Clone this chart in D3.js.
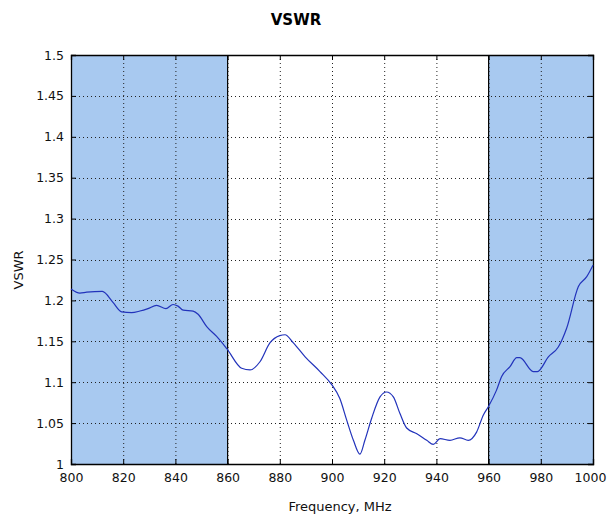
<!DOCTYPE html>
<html><head><meta charset="utf-8">
<script src="https://cdn.jsdelivr.net/npm/d3@7"></script>
<style>body{margin:0;background:#fff}svg{display:block}text{font-family:"DejaVu Sans",Verdana,sans-serif}</style>
</head><body>
<svg id="c" width="608" height="515"></svg>
<script>
const freq = [800,803.4,806,812,816,819.4,823.2,826.4,829.5,832.8,836.4,839.1,841,843,846.8,848.7,852,855.8,859.7,865.4,868.6,872.4,876.2,880,882,885.2,889.7,895.4,899.9,903,905.6,908.2,910.7,912.6,915.2,918.4,920.9,923.5,926,928.6,932.5,936.3,938.8,941.4,945.2,949,952.2,955.4,958,959.9,963,965,968.2,970.8,972,977.1,978.7,982.9,986.7,989.9,994.4,997.6,1000];
const vswr = [1.214,1.209,1.21,1.211,1.198,1.186,1.185,1.187,1.19,1.194,1.19,1.195,1.193,1.188,1.187,1.183,1.168,1.156,1.141,1.117,1.115,1.125,1.148,1.157,1.158,1.148,1.131,1.113,1.097,1.08,1.054,1.029,1.012,1.029,1.056,1.082,1.088,1.082,1.062,1.044,1.037,1.029,1.024,1.031,1.029,1.032,1.029,1.039,1.06,1.07,1.09,1.107,1.119,1.13,1.13,1.113,1.113,1.131,1.143,1.166,1.217,1.229,1.243];
const bands = [[800,860],[960,1000]];
const xTicks = [800,820,840,860,880,900,920,940,960,980,1000];
const yTicks = [1,1.05,1.1,1.15,1.2,1.25,1.3,1.35,1.4,1.45,1.5];

const svg = d3.select("#c");
const L=71,R=593,T=55,B=464;
const x = d3.scaleLinear().domain([800,1000]).range([L,R]);
const y = d3.scaleLinear().domain([1,1.5]).range([B,T]);

svg.selectAll("rect.band").data(bands).enter().append("rect")
  .attr("x",d=>x(d[0])).attr("y",T).attr("width",d=>x(d[1])-x(d[0])).attr("height",B-T)
  .attr("fill","#a8c9f0");
bands.forEach(b=>b.forEach(v=>{
  if(v>800&&v<1000) svg.append("line").attr("x1",x(v)).attr("x2",x(v)).attr("y1",T).attr("y2",B).attr("stroke","#000").attr("stroke-width",1.2);
}));

// grid
const g = svg.append("g").attr("stroke","#222").attr("stroke-width",1).attr("stroke-dasharray","1,3");
xTicks.slice(1,-1).forEach(v=>g.append("line").attr("x1",x(v)+0.5).attr("x2",x(v)+0.5).attr("y1",T).attr("y2",B));
yTicks.slice(1,-1).forEach(v=>g.append("line").attr("y1",Math.round(y(v))+0.5).attr("y2",Math.round(y(v))+0.5).attr("x1",L).attr("x2",R));

// axes
const xa = svg.append("g").attr("transform",`translate(0,${B})`).call(d3.axisBottom(x).tickValues(xTicks).tickSize(-5).tickPadding(9).tickFormat(d3.format("d")));
const xt = svg.append("g").attr("transform",`translate(0,${T})`).call(d3.axisTop(x).tickValues(xTicks).tickSize(-5).tickFormat(""));
const ya = svg.append("g").attr("transform",`translate(${L},0)`).call(d3.axisLeft(y).tickValues(yTicks).tickSize(-5).tickPadding(7).tickFormat(d=>String(+d.toFixed(2))));
const yr = svg.append("g").attr("transform",`translate(${R},0)`).call(d3.axisRight(y).tickValues(yTicks).tickSize(-5).tickFormat(""));
[xa,xt,ya,yr].forEach(a=>{a.selectAll("path").attr("stroke","#000").attr("stroke-width",1.3);a.selectAll("line").attr("stroke","#000");a.selectAll("text").attr("font-size",12.5).attr("fill","#111");});
xa.selectAll(".tick text").filter(d=>d===1000).attr("dx",-3);

// line
svg.append("path").datum(freq.map((f,i)=>[f,vswr[i]]))
  .attr("d",d3.line().x(d=>x(d[0])).y(d=>y(d[1])).curve(d3.curveMonotoneX))
  .attr("fill","none").attr("stroke","#2233bb").attr("stroke-width",1.2);

svg.append("text").attr("x",296).attr("y",25).attr("text-anchor","middle").attr("font-size",15).attr("font-weight","bold").text("VSWR");
svg.append("text").attr("x",340).attr("y",511).attr("text-anchor","middle").attr("font-size",13).attr("fill","#111").text("Frequency, MHz");
svg.append("text").attr("transform","translate(23,270) rotate(-90)").attr("text-anchor","middle").attr("font-size",13).attr("fill","#111").text("VSWR");
</script>
</body></html>
